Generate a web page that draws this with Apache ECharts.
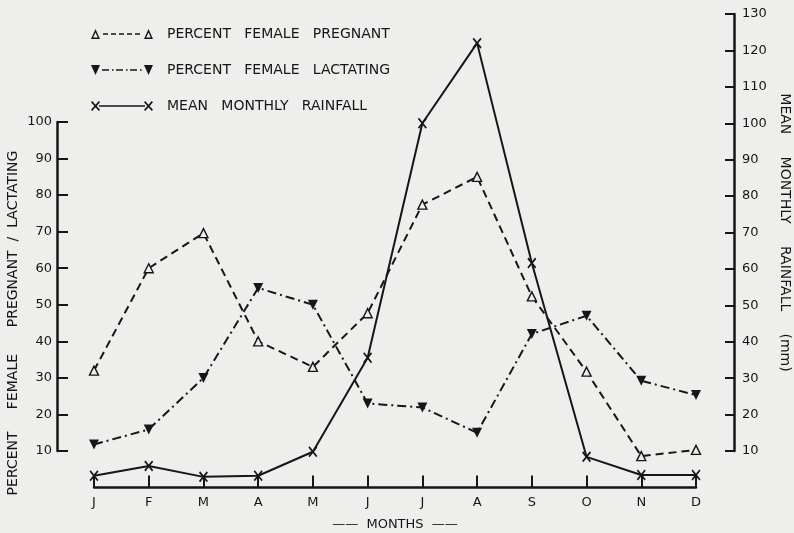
<!DOCTYPE html>
<html>
<head>
<meta charset="utf-8">
<script src="https://cdn.jsdelivr.net/npm/echarts@6/dist/echarts.min.js"></script>
<style>
html,body{margin:0;padding:0;background:#eeeeec;}
#c{width:794px;height:533px;}
</style>
</head>
<body>
<div id="c"></div>
<script>
// ---- data ----
var months = ['J','F','M','A','M','J','J','A','S','O','N','D'];
var pregnant = [32, 60, 69.6, 40, 33, 47.7, 77.4, 85, 52.3, 31.7, 8.6, 10.3];
var lactating = [11.8, 15.9, 30, 54.6, 50, 23, 21.9, 15, 42, 47, 29.2, 25.3];
var rainfall = [3.2, 5.9, 2.9, 3.2, 9.8, 35.6, 100, 122, 61.6, 8.4, 3.4, 3.4];
var pctTicks = {min: 10, max: 100, interval: 10};
var rainTicks = {min: 10, max: 130, interval: 10};
var seriesNames = ['PERCENT   FEMALE   PREGNANT', 'PERCENT   FEMALE   LACTATING', 'MEAN   MONTHLY   RAINFALL'];
var leftTitle = 'PERCENT     FEMALE      PREGNANT  /  LACTATING';
var rightTitle = 'MEAN     MONTHLY     RAINFALL     (mm)';
var xTitle = '——  MONTHS  ——';

var INK = '#161616';
var BG = '#eeeeec';
var FONT = 'DejaVu Sans';

var xSymbol = 'path://M0,1.2L1.2,0L9,8.8L7.8,10ZM7.8,0L9,1.2L1.2,10L0,8.8Z';

// legend icons (62 x 10 boxes)
function rect(x, w){ return 'M'+x+',4.2h'+w+'v1.6h-'+w+'Z'; }
var iconPreg = 'path://M0,10L4.5,0L9,10ZM2.2,8.6L6.8,8.6L4.5,3.4Z' +
  rect(12,5)+rect(20,5)+rect(28,5)+rect(36,5)+rect(44,5) +
  'M53,10L57.5,0L62,10ZM55.2,8.6L59.8,8.6L57.5,3.4Z';
var iconLact = 'path://M0,0L9,0L4.5,10Z' +
  rect(11,7)+rect(21,1.6)+rect(25,7)+rect(35,1.6)+rect(39,7)+rect(49,1.6) +
  'M53,0L62,0L57.5,10Z';
var iconRain = 'path://M0,1.2L1.2,0L9,8.8L7.8,10ZM7.8,0L9,1.2L1.2,10L0,8.8Z' +
  rect(8,46) +
  'M53,1.2L54.2,0L62,8.8L60.8,10ZM60.8,0L62,1.2L54.2,10L53,8.8Z';

var chart = echarts.init(document.getElementById('c'), null, {renderer: 'canvas'});
var gridL = 94, gridR = 98;
var option = {
  backgroundColor: BG,
  animation: false,
  textStyle: {fontFamily: FONT, color: INK},
  legend: {
    orient: 'vertical', left: 86, top: 22,
    itemWidth: 62, itemHeight: 10, itemGap: 22,
    textStyle: {fontFamily: FONT, fontSize: 14, color: INK, padding: [0,0,0,9]},
    data: [
      {name: seriesNames[0], icon: iconPreg, itemStyle: {color: INK, borderWidth: 0}},
      {name: seriesNames[1], icon: iconLact, itemStyle: {color: INK, borderWidth: 0}},
      {name: seriesNames[2], icon: iconRain, itemStyle: {color: INK, borderWidth: 0}}
    ],
    selectedMode: false
  },
  grid: [
    {left: gridL, right: gridR, top: 122, bottom: 82, outerBoundsMode: 'none'},
    {left: gridL, right: gridR, top: 14, bottom: 82, outerBoundsMode: 'none'}
  ],
  xAxis: [
    {gridIndex: 0, type: 'category', data: months, boundaryGap: false, show: false},
    {gridIndex: 1, type: 'category', data: months, boundaryGap: false, position: 'bottom', offset: 36.5,
     axisLine: {lineStyle: {color: INK, width: 2.5}},
     axisTick: {inside: true, length: 12, lineStyle: {color: INK, width: 2}},
     axisLabel: {color: INK, fontSize: 13, fontFamily: FONT, margin: 9, interval: 0},
     splitLine: {show: false},
     name: xTitle, nameLocation: 'middle', nameGap: 31,
     nameTextStyle: {color: INK, fontSize: 13, fontFamily: FONT}}
  ],
  yAxis: [
    {gridIndex: 0, type: 'value', min: pctTicks.min, max: pctTicks.max, interval: pctTicks.interval,
     position: 'left', offset: 37,
     axisLine: {show: true, lineStyle: {color: INK, width: 2.5}},
     axisTick: {show: true, inside: true, length: 11, lineStyle: {color: INK, width: 2}},
     axisLabel: {color: INK, fontSize: 13, fontFamily: FONT, margin: 5},
     splitLine: {show: false}},
    {gridIndex: 1, type: 'value', min: rainTicks.min, max: rainTicks.max, interval: rainTicks.interval,
     position: 'right', offset: 38,
     axisLine: {show: true, lineStyle: {color: INK, width: 2.5}},
     axisTick: {show: true, inside: true, length: 9, lineStyle: {color: INK, width: 2}},
     axisLabel: {color: INK, fontSize: 13, fontFamily: FONT, margin: 8},
     splitLine: {show: false},
     name: rightTitle, nameLocation: 'middle', nameRotate: -90, nameGap: 44,
     nameTextStyle: {color: INK, fontSize: 14, fontFamily: FONT}}
  ],
  graphic: [
    {type: 'text', x: 13, y: 323, rotation: Math.PI / 2,
     style: {text: leftTitle, fill: INK, font: '14px "DejaVu Sans"',
             align: 'center', verticalAlign: 'middle', textAlign: 'center', textVerticalAlign: 'middle'}}
  ],
  series: [
    {name: seriesNames[0], type: 'line', xAxisIndex: 0, yAxisIndex: 0, data: pregnant, clip: false,
     symbol: 'triangle', symbolSize: [9, 9],
     itemStyle: {color: BG, borderColor: INK, borderWidth: 1.4},
     lineStyle: {color: INK, width: 2, type: [8, 5]}, z: 3},
    {name: seriesNames[1], type: 'line', xAxisIndex: 0, yAxisIndex: 0, data: lactating, clip: false,
     symbol: 'triangle', symbolRotate: 180, symbolSize: [10, 10],
     itemStyle: {color: INK},
     lineStyle: {color: INK, width: 2, type: [9, 4, 2, 4]}, z: 3},
    {name: seriesNames[2], type: 'line', xAxisIndex: 1, yAxisIndex: 1, data: rainfall, clip: false,
     symbol: xSymbol, symbolSize: [9, 11],
     itemStyle: {color: INK},
     lineStyle: {color: INK, width: 2}, z: 4}
  ]
};
chart.setOption(option);
</script>
</body>
</html>
